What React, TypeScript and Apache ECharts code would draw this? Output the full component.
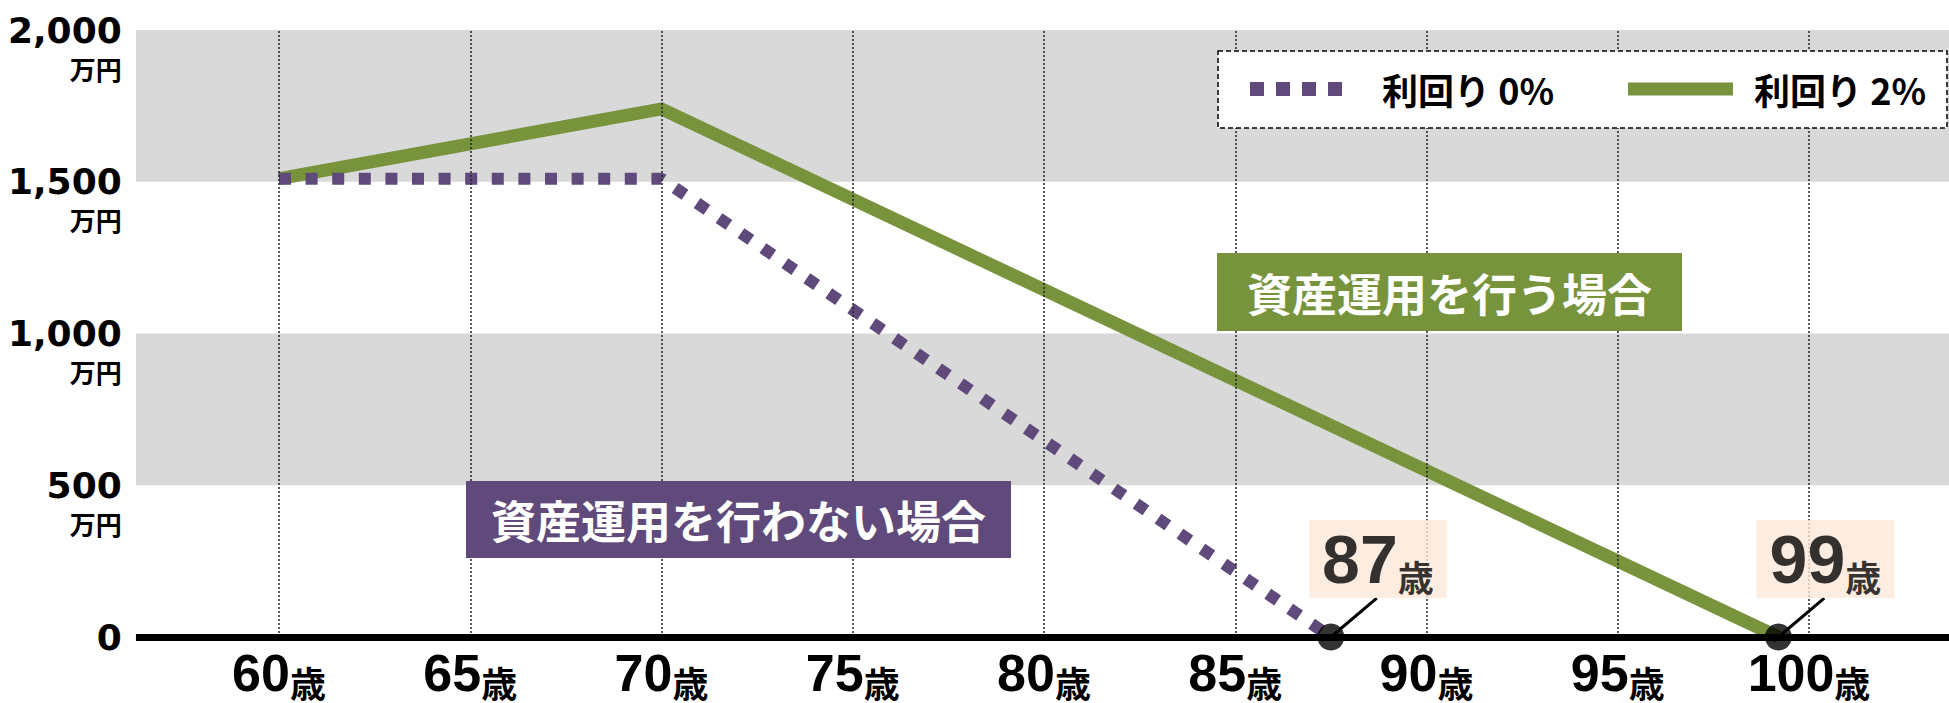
import React, { useEffect, useRef } from "react";
import * as echarts from "echarts";

// ---- data ----
const ages = [60, 65, 70, 75, 80, 85, 90, 95, 100];
const yTicks = [0, 500, 1000, 1500, 2000];
const yTickLabels = ["0", "500", "1,000", "1,500", "2,000"];
const seriesNames = ["利回り 0%", "利回り 2%"];
const noReturnAges = [60, 70, 87.5];
const noReturnValues = [1510, 1510, 0];
const withReturnAges = [60, 70, 99.2];
const withReturnValues = [1510, 1740, 0];
const depletionAges = [87.5, 99.2];
const depletionLabels = ["87", "99"];
const bandRanges = [
  [1500, 2000],
  [500, 1000],
];
const annotationTexts = ["資産運用を行う場合", "資産運用を行わない場合"];

const PURPLE = "#604a7b";
const GREEN = "#77933c";
const GREY = "#d9d9d9";
const PEACH = "#fde9d9";
const CJK = "'Noto Sans CJK JP', sans-serif";
const DIGITS = "'Liberation Sans', Arial, sans-serif";

const X_LEFT = 56.26;
const X_RIGHT = 104.5;

export default function App() {
  const ref = useRef<HTMLDivElement>(null);
  useEffect(() => {
    if (!ref.current) return;
    const chart = echarts.init(ref.current, null, { renderer: "svg" });
    const option: any = {
      animation: false,
      backgroundColor: "#fff",
      grid: {
        left: 87.75,
        right: -51.25,
        top: 30,
        bottom: 66,
        containLabel: false,
        outerBoundsMode: "none",
      },
      xAxis: {
        type: "value",
        min: 55,
        max: 105,
        interval: 5,
        axisLine: { show: false },
        axisTick: { show: false },
        splitLine: { show: false },
        axisLabel: {
          margin: 9,
          showMinLabel: false,
          showMaxLabel: false,
          formatter: (v: number) => (ages.includes(v) ? `{n|${v}}{u|歳}` : ""),
          rich: {
            n: { fontSize: 52, fontWeight: "bold", fontFamily: DIGITS, color: "#000", lineHeight: 54 },
            u: { fontSize: 36, fontWeight: "bold", fontFamily: CJK, color: "#000", lineHeight: 44, verticalAlign: "bottom" },
          },
        },
      },
      yAxis: {
        type: "value",
        min: 0,
        max: 2000,
        interval: 500,
        axisLine: { show: false },
        axisTick: { show: false },
        splitLine: { show: false },
        axisLabel: {
          margin: -34,
          padding: [36, 0, 0, 0],
          formatter: (v: number) => {
            const i = yTicks.indexOf(v);
            if (i < 0) return "";
            return `{n|${yTickLabels[i]}}\n{u|${i === 0 ? " " : "万円"}}`;
          },
          rich: {
            n: { fontSize: 36, fontWeight: "bold", fontFamily: "'DejaVu Sans', sans-serif", color: "#000", lineHeight: 40, align: "right" },
            u: { fontSize: 26, fontWeight: "bold", fontFamily: CJK, color: "#000", lineHeight: 36, align: "right" },
          },
        },
      },
      series: [
        {
          name: "bands",
          type: "scatter",
          data: [],
          z: 1,
          silent: true,
          markArea: {
            silent: true,
            itemStyle: { color: GREY },
            data: bandRanges.map(([a, b]) => [
              { coord: [X_LEFT, a] },
              { coord: [X_RIGHT, b] },
            ]),
          },
        },
        {
          name: "gridlines",
          type: "scatter",
          data: [],
          z: 2,
          silent: true,
          markLine: {
            silent: true,
            symbol: "none",
            label: { show: false },
            data: [
              ...ages.map((a) => ({ xAxis: a, lineStyle: { color: "#222", type: [2, 2], width: 1.5 } })),
              [
                { coord: [X_LEFT, 0], lineStyle: { color: "#000", type: "solid", width: 7 } },
                { coord: [X_RIGHT, 0] },
              ],
            ],
          },
        },
        {
          name: seriesNames[1],
          type: "line",
          z: 3,
          showSymbol: false,
          data: withReturnAges.map((a, i) => [a, withReturnValues[i]]),
          lineStyle: { color: GREEN, width: 13, cap: "butt", join: "miter" },
          itemStyle: { color: GREEN },
        },
        {
          name: seriesNames[0],
          type: "line",
          z: 4,
          showSymbol: false,
          data: noReturnAges.map((a, i) => [a, noReturnValues[i]]),
          lineStyle: { color: PURPLE, width: 12, type: [12, 14.6], cap: "butt" },
          itemStyle: { color: PURPLE },
        },
        {
          name: "depletion",
          type: "scatter",
          z: 5,
          symbol: "circle",
          symbolSize: 27,
          itemStyle: { color: "#000" },
          data: depletionAges.map((a, i) => ({
            value: [a, 0],
            label: { formatter: `{a|${depletionLabels[i]}}{b|歳}` },
          })),
          label: {
            show: true,
            position: "inside",
            offset: [47, -78],
            backgroundColor: PEACH,
            padding: [4, 13, 4, 13],
            rich: {
              a: { fontSize: 68, fontWeight: "bold", fontFamily: DIGITS, color: "#000", lineHeight: 70 },
              b: { fontSize: 36, fontWeight: "bold", fontFamily: CJK, color: "#000", lineHeight: 54, verticalAlign: "bottom" },
            },
          },
          markLine: {
            silent: true,
            symbol: "none",
            label: { show: false },
            lineStyle: { color: "#000", type: "solid", width: 3 },
            data: depletionAges.map((a) => [{ coord: [a, 0] }, { coord: [a + 1.2, 128] }]),
          },
        },
      ],
      graphic: [
        {
          type: "rect",
          z: 100,
          shape: { x: 1218, y: 51, width: 729, height: 77 },
          style: { fill: "#fff", stroke: "#000", lineWidth: 1.5, lineDash: [5, 3] },
        },
        {
          type: "line",
          z: 101,
          shape: { x1: 1250, y1: 89, x2: 1343, y2: 89 },
          style: { stroke: PURPLE, lineWidth: 14, lineDash: [14, 12] },
        },
        {
          type: "text",
          z: 101,
          x: 1382,
          y: 89,
          style: { text: seriesNames[0], fontSize: 36, fontWeight: "bold", fontFamily: CJK, fill: "#000", align: "left", verticalAlign: "middle" },
        },
        {
          type: "line",
          z: 101,
          shape: { x1: 1628, y1: 89, x2: 1733, y2: 89 },
          style: { stroke: GREEN, lineWidth: 13 },
        },
        {
          type: "text",
          z: 101,
          x: 1754,
          y: 89,
          style: { text: seriesNames[1], fontSize: 36, fontWeight: "bold", fontFamily: CJK, fill: "#000", align: "left", verticalAlign: "middle" },
        },
        { type: "rect", z: 100, shape: { x: 1217, y: 253, width: 465, height: 78 }, style: { fill: GREEN } },
        {
          type: "text",
          z: 101,
          x: 1449.5,
          y: 292,
          style: { text: annotationTexts[0], fontSize: 45, fontWeight: "bold", fontFamily: CJK, fill: "#fff", align: "center", verticalAlign: "middle" },
        },
        { type: "rect", z: 100, shape: { x: 466, y: 481, width: 545, height: 77 }, style: { fill: PURPLE } },
        {
          type: "text",
          z: 101,
          x: 738.5,
          y: 519.5,
          style: { text: annotationTexts[1], fontSize: 45, fontWeight: "bold", fontFamily: CJK, fill: "#fff", align: "center", verticalAlign: "middle" },
        },
      ],
    };
    chart.setOption(option);
    return () => chart.dispose();
  }, []);
  return (
    <div
      ref={ref}
      style={{ position: "fixed", left: 0, top: 0, width: 1949, height: 703, background: "#fff" }}
    />
  );
}
